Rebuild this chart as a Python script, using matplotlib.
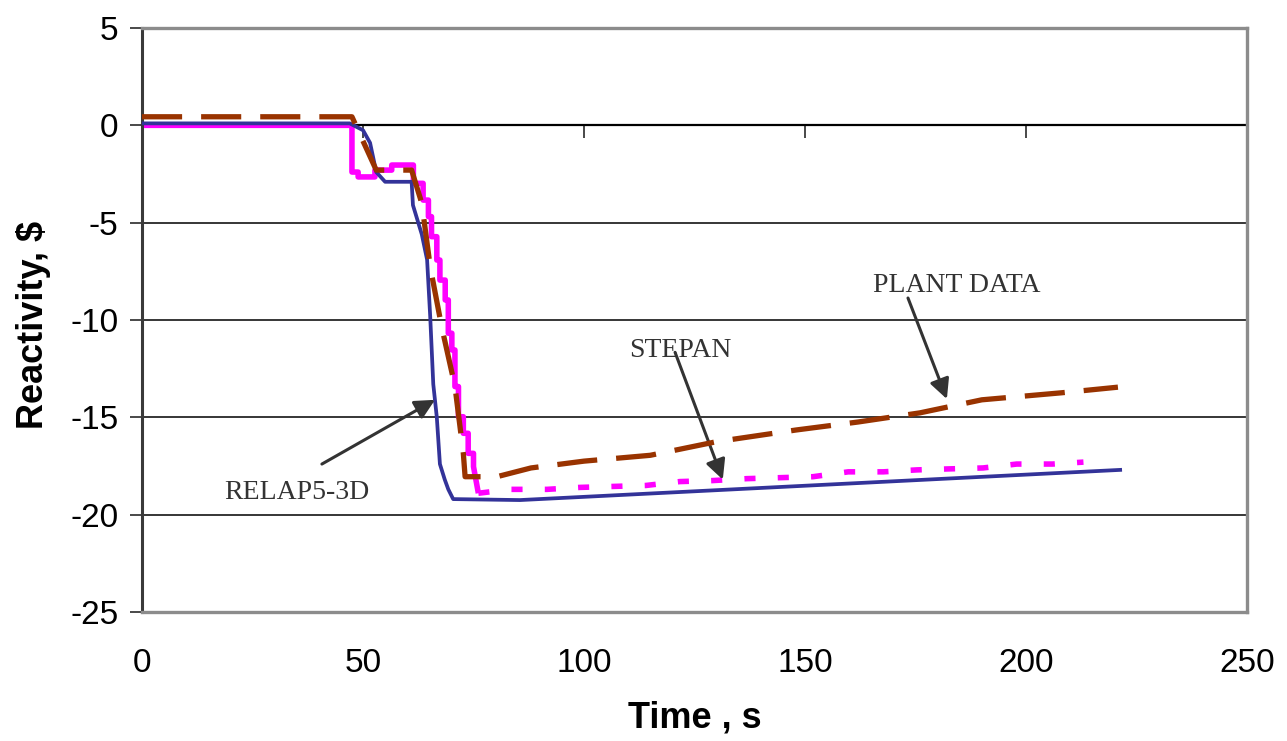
import matplotlib
matplotlib.use('Agg')
import matplotlib.pyplot as plt

plt.rcParams['axes.unicode_minus'] = False

# RELAP5-3D (solid blue)
relap_t = [0, 47, 50, 51.6, 53, 55, 61, 61.3, 63.3, 64.5, 65.2, 65.9, 66.7, 67.4, 68.5, 69.3, 70.4, 85.5, 221.3]
relap_r = [0.1, 0.1, -0.25, -0.9, -2.4, -2.9, -2.9, -4.1, -5.6, -6.9, -9.8, -13.3, -15.0, -17.4, -18.2, -18.7, -19.2, -19.25, -17.7]

# PLANT DATA (dashed brown)
plant_t = [0, 47.5, 53, 61, 63.3, 65.2, 67.8, 70.8, 72.7, 73.1, 80.3, 88, 100, 115, 130, 148, 162, 176, 190, 208, 220.8]
plant_r = [0.44, 0.44, -2.3, -2.3, -4.0, -7.26, -10.35, -13.4, -16.85, -18.05, -18.05, -17.6, -17.25, -16.95,
           -16.25, -15.65, -15.24, -14.77, -14.1, -13.74, -13.45]

# STEPAN (magenta, staircase then dotted)
stepan_t = [0, 47.5, 47.5, 48.9, 48.9, 50.0, 50.0, 52.7, 52.7, 56.5, 56.5, 61.4, 61.4, 63.6, 63.6, 64.8, 64.8,
            65.5, 65.5, 66.7, 66.7, 67.4, 67.4, 68.6, 68.6, 69.3, 69.3, 70.1, 70.1, 70.8, 70.8, 71.6, 71.6,
            72.7, 72.7, 73.8, 73.8, 75.0, 75.0, 76.1,
            83.3, 91.6, 99, 114, 121.7, 129, 136.8, 144.3, 151.8, 159.8, 167.7, 175.3, 182.4, 190.3,
            197.9, 206, 213]
stepan_r = [0, 0, -2.4, -2.4, -2.65, -2.65, -2.65, -2.65, -2.3, -2.3, -2.04, -2.04, -2.98, -2.98, -3.84, -3.84,
            -4.69, -4.69, -5.72, -5.72, -6.92, -6.92, -7.95, -7.95, -8.97, -8.97, -10.68, -10.68, -11.54,
            -11.54, -13.42, -13.42, -14.97, -14.97, -15.82, -15.82, -16.85, -16.85, -17.53, -18.9,
            -18.7, -18.7, -18.6, -18.5, -18.3, -18.25, -18.15, -18.1, -18.05, -17.8, -17.8, -17.7, -17.65,
            -17.6, -17.4, -17.4, -17.3]
n_steps = 39  # index where the dotted tail starts

xticks = [0, 50, 100, 150, 200, 250]
yticks = [-25, -20, -15, -10, -5, 0, 5]

fig = plt.figure(figsize=(12.87, 7.41), dpi=100)
ax = fig.add_axes([142 / 1287, 1 - 612 / 741, (1247 - 142) / 1287, (612 - 28) / 741])

for y in yticks[1:5]:
    if y != 0:
        ax.axhline(y, color='black', lw=1.1, zorder=1)

ax.plot(stepan_t[:n_steps + 1], stepan_r[:n_steps + 1], color='#FF00FF', lw=4.0, solid_capstyle='butt',
        zorder=2)
ax.plot(stepan_t[n_steps:], stepan_r[n_steps:], color='#FF00FF', lw=4.0, dashes=(2.0, 4.0),
        dash_capstyle='butt', zorder=2)
ax.plot(relap_t, relap_r, color='#333399', lw=2.7, zorder=3)
ax.plot(plant_t, plant_r, color='#993300', lw=3.8, dashes=(7.6, 3.6), dash_capstyle='butt', zorder=4)

ax.set_xlim(0, 250)
ax.set_ylim(-25, 5)
ax.set_xticks(xticks)
ax.set_yticks(yticks)

for s in ['top', 'right', 'bottom']:
    ax.spines[s].set_color('#8c8c8c')
    ax.spines[s].set_linewidth(2.4)
ax.spines['left'].set_color('#3a3a3a')
ax.spines['left'].set_linewidth(2.2)

ax.tick_params(axis='x', length=0, pad=26, labelsize=24)
ax.tick_params(axis='y', length=9, width=1.3, color='#3a3a3a', pad=8, labelsize=24)
for lab in ax.get_xticklabels() + ax.get_yticklabels():
    lab.set_fontfamily('Liberation Sans')

# horizontal axis crossing at zero
sec = ax.secondary_xaxis(25 / 30)
sec.set_xticks(xticks)
sec.tick_params(direction='in', length=9, width=1.3, color='#3a3a3a', labeltop=False, labelbottom=False)
sec.spines['top'].set_color('black')
sec.spines['top'].set_linewidth(1.6)

fig.text(695 / 1287, 1 - 718 / 741, 'Time , s', fontsize=26, fontweight='bold',
         family='Liberation Sans', ha='center', va='center')
fig.text(34 / 1287, 1 - 325 / 741, 'Reactivity, $', fontsize=26, fontweight='bold',
         family='Liberation Sans', ha='center', va='center', rotation=90)

arrow = dict(arrowstyle='-|>', color='#333333', lw=2.2, mutation_scale=30, shrinkA=0, shrinkB=0)
tfont = dict(fontsize=20, family='Liberation Serif', color='#333333', ha='center', va='center')
ax.text(184.3, -8.25, 'PLANT DATA', **tfont)
ax.annotate('', xy=(182.1, -14.06), xytext=(173.3, -8.87), arrowprops=arrow)
ax.text(121.9, -11.55, 'STEPAN', **tfont)
ax.annotate('', xy=(131.4, -18.2), xytext=(120.6, -11.66), arrowprops=arrow)
ax.text(35.0, -18.85, 'RELAP5-3D', **tfont)
ax.annotate('', xy=(66.3, -14.1), xytext=(40.7, -17.4), arrowprops=arrow)

fig.savefig('out.png', dpi=100)
